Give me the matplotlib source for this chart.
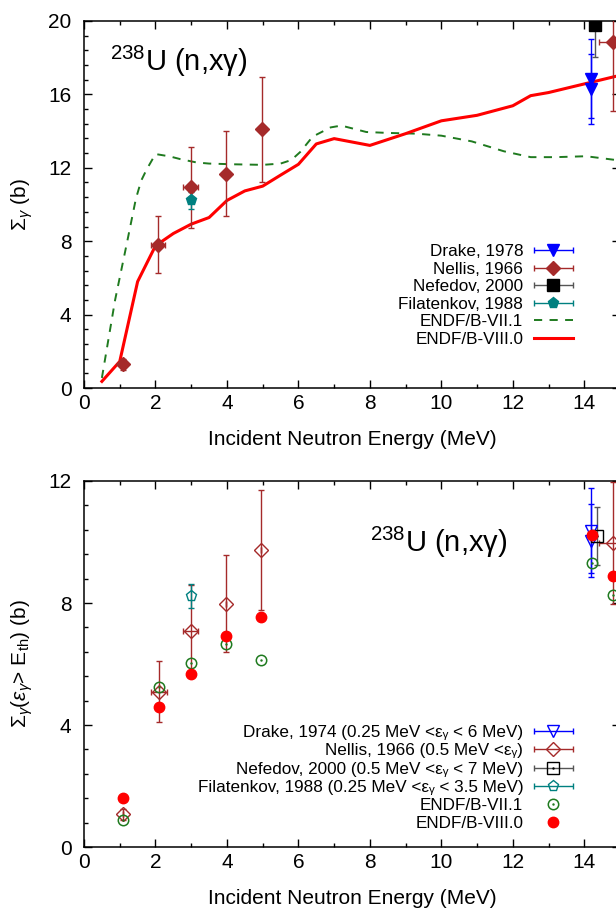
import numpy as np
import matplotlib
matplotlib.use('Agg')
import matplotlib.pyplot as plt
from matplotlib.ticker import MultipleLocator
from matplotlib.legend_handler import HandlerErrorbar, HandlerTuple

plt.rcParams['font.family'] = ['Liberation Sans', 'DejaVu Sans']
plt.rcParams['mathtext.fontset'] = 'custom'
plt.rcParams['mathtext.rm'] = 'Liberation Sans'
plt.rcParams['mathtext.it'] = 'Liberation Sans:italic'
plt.rcParams['mathtext.bf'] = 'Liberation Sans:bold'

# ---- top panel: total gamma production cross section
e_viii = [0.5, 1.0, 1.5, 2.0, 2.5, 3.0, 3.5, 4.0, 4.5, 5.0, 5.5, 6.0, 6.5, 7.0,
          8.0, 9.0, 10.0, 11.0, 12.0, 12.5, 13.0, 14.0, 15.0]
sig_viii = [0.36, 1.45, 5.8, 7.75, 8.42, 8.93, 9.29, 10.22, 10.74, 11.0, 11.6,
            12.19, 13.3, 13.59, 13.22, 13.86, 14.56, 14.86, 15.38, 15.93, 16.1,
            16.57, 17.04]

e_vii = [0.5, 0.87, 1.2, 1.45, 1.6, 1.75, 2.0, 2.4, 2.7, 3.15, 3.5, 4.2, 5.0,
         5.5, 5.8, 6.05, 6.4, 6.9, 7.2, 7.5, 7.9, 8.5, 9.3, 10.0, 10.85, 11.75,
         12.5, 13.2, 14.05, 14.9, 15.0]
sig_vii = [0.55, 4.8, 7.9, 10.3, 11.3, 11.9, 12.75, 12.62, 12.47, 12.29, 12.23,
           12.19, 12.16, 12.23, 12.42, 12.86, 13.7, 14.2, 14.3, 14.15, 13.95,
           13.9, 13.86, 13.75, 13.44, 12.9, 12.58, 12.58, 12.63, 12.42, 12.0]

drake78_e = [14.2, 14.2]
drake78_s = [16.86, 16.3]
drake78_err = [2.15, 1.9]

nellis_e = [1.08, 2.08, 2.98, 3.97, 4.97, 14.8]
nellis_s = [1.3, 7.8, 10.93, 11.68, 14.1, 18.86]
nellis_err = [0.3, 1.55, 2.2, 2.3, 2.85, 3.75]
nellis_xerr = [0.0, 0.2, 0.2, 0.0, 0.0, 0.4]

nefedov_e = [14.3]
nefedov_s = [19.8]
nefedov_err = [1.77]

filat_e = [2.98]
filat_s = [10.22]
filat_err = [0.47]

# ---- bottom panel: above threshold
pts_e = [1.08, 2.1, 2.98, 3.97, 4.96, 14.21, 14.8]
pts_viii = [1.6, 4.6, 5.68, 6.91, 7.55, 10.24, 8.87]
pts_vii = [0.9, 5.26, 6.02, 6.67, 6.13, 9.31, 8.26]

drake74_e = [14.2, 14.2]
drake74_s = [10.37, 10.04]
drake74_err = [1.39, 1.2]

nellis_b_e = [1.08, 2.09, 2.98, 3.97, 4.96, 14.8]
nellis_b_s = [1.07, 5.09, 7.08, 7.98, 9.74, 9.97]
nellis_b_err = [0.17, 1.0, 1.5, 1.6, 1.96, 2.0]
nellis_b_xerr = [0.0, 0.22, 0.2, 0.0, 0.0, 0.4]

nefedov_b_e = [14.35]
nefedov_b_s = [10.2]
nefedov_b_err = [0.95]

filat_b_e = [2.98]
filat_b_s = [8.22]
filat_b_err = [0.39]

BLUE = '#0000ff'
BROWN = '#a52a2a'
TEAL = '#008080'
GREEN = '#1f7a1f'
RED = '#ff0000'

fig = plt.figure(figsize=(6.16, 9.16), dpi=100)
ax1 = fig.add_axes([0.1364, 0.5764, 0.8701, 0.4007])
ax2 = fig.add_axes([0.1364, 0.0753, 0.8701, 0.3996])

eb_kw = dict(linestyle='none', elinewidth=1.0, capsize=2.5, capthick=1.0, zorder=4)


def style_axes(ax, ymax):
    ax.set_xlim(0, 15)
    ax.set_ylim(0, ymax)
    ax.xaxis.set_major_locator(MultipleLocator(2))
    ax.xaxis.set_minor_locator(MultipleLocator(1))
    ax.yaxis.set_major_locator(MultipleLocator(4))
    ax.yaxis.set_minor_locator(MultipleLocator(0.8))
    ax.tick_params(which='both', direction='in', top=True, right=True, width=1.0)
    ax.tick_params(which='major', length=5.5)
    ax.tick_params(which='minor', length=3)
    ax.tick_params(axis='x', labelsize=15, pad=4.5)
    ax.tick_params(axis='y', labelsize=15, pad=9)
    for s in ax.spines.values():
        s.set_linewidth(1.1)
    ax.set_xlabel('Incident Neutron Energy (MeV)', fontsize=15)
    ax.xaxis.set_label_coords(0.5, -0.115)


def proxy(ax, **kw):
    return ax.errorbar([np.nan], [np.nan], xerr=[np.nan], linestyle='none',
                       elinewidth=1.0, capsize=2.5, capthick=1.0, **kw)


# ================= top panel =================
ax1.plot(e_vii, sig_vii, color=GREEN, lw=1.4, linestyle=(0, (4.2, 3.8)), zorder=2)
ax1.plot(e_viii, sig_viii, color=RED, lw=2.2, zorder=3)

ax1.errorbar(drake78_e, drake78_s, yerr=drake78_err, fmt='v', color=BLUE,
             ms=8, ecolor=BLUE, **eb_kw)
ax1.errorbar(nellis_e, nellis_s, yerr=nellis_err, xerr=nellis_xerr, fmt='D',
             color=BROWN, ms=7, ecolor=BROWN, **eb_kw)
ax1.errorbar(nefedov_e, nefedov_s, yerr=nefedov_err, fmt='s', color='black',
             ms=8, ecolor='#555555', **eb_kw)
ax1.errorbar(filat_e, filat_s, yerr=filat_err, fmt='p', color=TEAL, ms=8,
             ecolor=TEAL, **eb_kw)

style_axes(ax1, 20)
ax1.set_ylabel(r'$\Sigma_{\gamma}$ (b)', fontsize=15)
ax1.yaxis.set_label_coords(-0.092, 0.5)
ax1.text(0.048, 0.865, r'$^{238}$U (n,x$\mathrm{\gamma}$)', fontsize=21,
         transform=ax1.transAxes, va='baseline', ha='left')

h1 = [proxy(ax1, fmt='v', color=BLUE, ms=8, ecolor=BLUE),
      proxy(ax1, fmt='D', color=BROWN, ms=7, ecolor=BROWN),
      proxy(ax1, fmt='s', color='black', ms=8, ecolor='#555555'),
      proxy(ax1, fmt='p', color=TEAL, ms=8, ecolor=TEAL),
      plt.Line2D([], [], color=GREEN, lw=1.4, linestyle=(0, (4.2, 3.8))),
      plt.Line2D([], [], color=RED, lw=2.2)]
l1 = ['Drake, 1978', 'Nellis, 1966', 'Nefedov, 2000', 'Filatenkov, 1988',
      'ENDF/B-VII.1', 'ENDF/B-VIII.0']
ax1.legend(h1, l1, loc='upper right', bbox_to_anchor=(0.912, 0.392),
           frameon=False, fontsize=12.3, markerfirst=False, handlelength=2.3,
           handletextpad=0.6, labelspacing=0.15, borderpad=0, borderaxespad=0,
           handler_map={type(h1[0]): HandlerErrorbar(xerr_size=1.15)})

# ================= bottom panel =================
ax2.errorbar(drake74_e, drake74_s, yerr=drake74_err, fmt='v', color=BLUE,
             mfc='none', ms=8, ecolor=BLUE, **eb_kw)
ax2.errorbar(nellis_b_e, nellis_b_s, yerr=nellis_b_err, xerr=nellis_b_xerr,
             fmt='D', color=BROWN, mfc='none', ms=7, ecolor=BROWN, **eb_kw)
ax2.errorbar(nefedov_b_e, nefedov_b_s, yerr=nefedov_b_err, fmt='s',
             color='black', mfc='none', ms=8, ecolor='#555555', **eb_kw)
ax2.plot(nefedov_b_e, nefedov_b_s, '.', color='black', ms=1.5, zorder=5)
ax2.errorbar(filat_b_e, filat_b_s, yerr=filat_b_err, fmt='p', color=TEAL,
             mfc='none', ms=8, ecolor=TEAL, **eb_kw)
ax2.plot(pts_e, pts_vii, 'o', color=GREEN, mfc='none', ms=7.5, mew=1.1, zorder=5)
ax2.plot(pts_e, pts_vii, '.', color=GREEN, ms=1.5, zorder=5)
ax2.plot(pts_e, pts_viii, 'o', color=RED, ms=7.5, mec=RED, zorder=6)

style_axes(ax2, 12)
ax2.set_ylabel(r'$\Sigma_{\gamma}(\varepsilon_{\gamma}$> E$_{\mathrm{th}}$) (b)',
               fontsize=15)
ax2.yaxis.set_label_coords(-0.092, 0.5)
ax2.text(0.534, 0.806, r'$^{238}$U (n,x$\mathrm{\gamma}$)', fontsize=21,
         transform=ax2.transAxes, va='baseline', ha='left')

eps = '\u03b5\u1d67'
dot_k = plt.Line2D([], [], marker='.', color='black', ms=1.5, linestyle='none')
dot_g = plt.Line2D([], [], marker='.', color=GREEN, ms=1.5, linestyle='none')
h2 = [proxy(ax2, fmt='v', color=BLUE, mfc='none', ms=8, ecolor=BLUE),
      proxy(ax2, fmt='D', color=BROWN, mfc='none', ms=7, ecolor=BROWN),
      (proxy(ax2, fmt='s', color='black', mfc='none', ms=8, ecolor='#555555'), dot_k),
      proxy(ax2, fmt='p', color=TEAL, mfc='none', ms=8, ecolor=TEAL),
      (plt.Line2D([], [], marker='o', color=GREEN, mfc='none', ms=7.5, mew=1.1,
                  linestyle='none'), dot_g),
      plt.Line2D([], [], marker='o', color=RED, ms=7.5, linestyle='none')]
l2 = ['Drake, 1974 (0.25 MeV <' + eps + ' < 6 MeV)',
      'Nellis, 1966 (0.5 MeV <' + eps + ')',
      'Nefedov, 2000 (0.5 MeV <' + eps + ' < 7 MeV)',
      'Filatenkov, 1988 (0.25 MeV <' + eps + ' < 3.5 MeV)',
      'ENDF/B-VII.1', 'ENDF/B-VIII.0']
ax2.legend(h2, l2, loc='upper right', bbox_to_anchor=(0.912, 0.333),
           frameon=False, fontsize=12.3, markerfirst=False, handlelength=2.3,
           handletextpad=0.6, labelspacing=0.19, borderpad=0, borderaxespad=0,
           handler_map={type(h1[0]): HandlerErrorbar(xerr_size=1.15),
                        tuple: HandlerTuple(ndivide=1)})

fig.savefig('out.png', dpi=100)
